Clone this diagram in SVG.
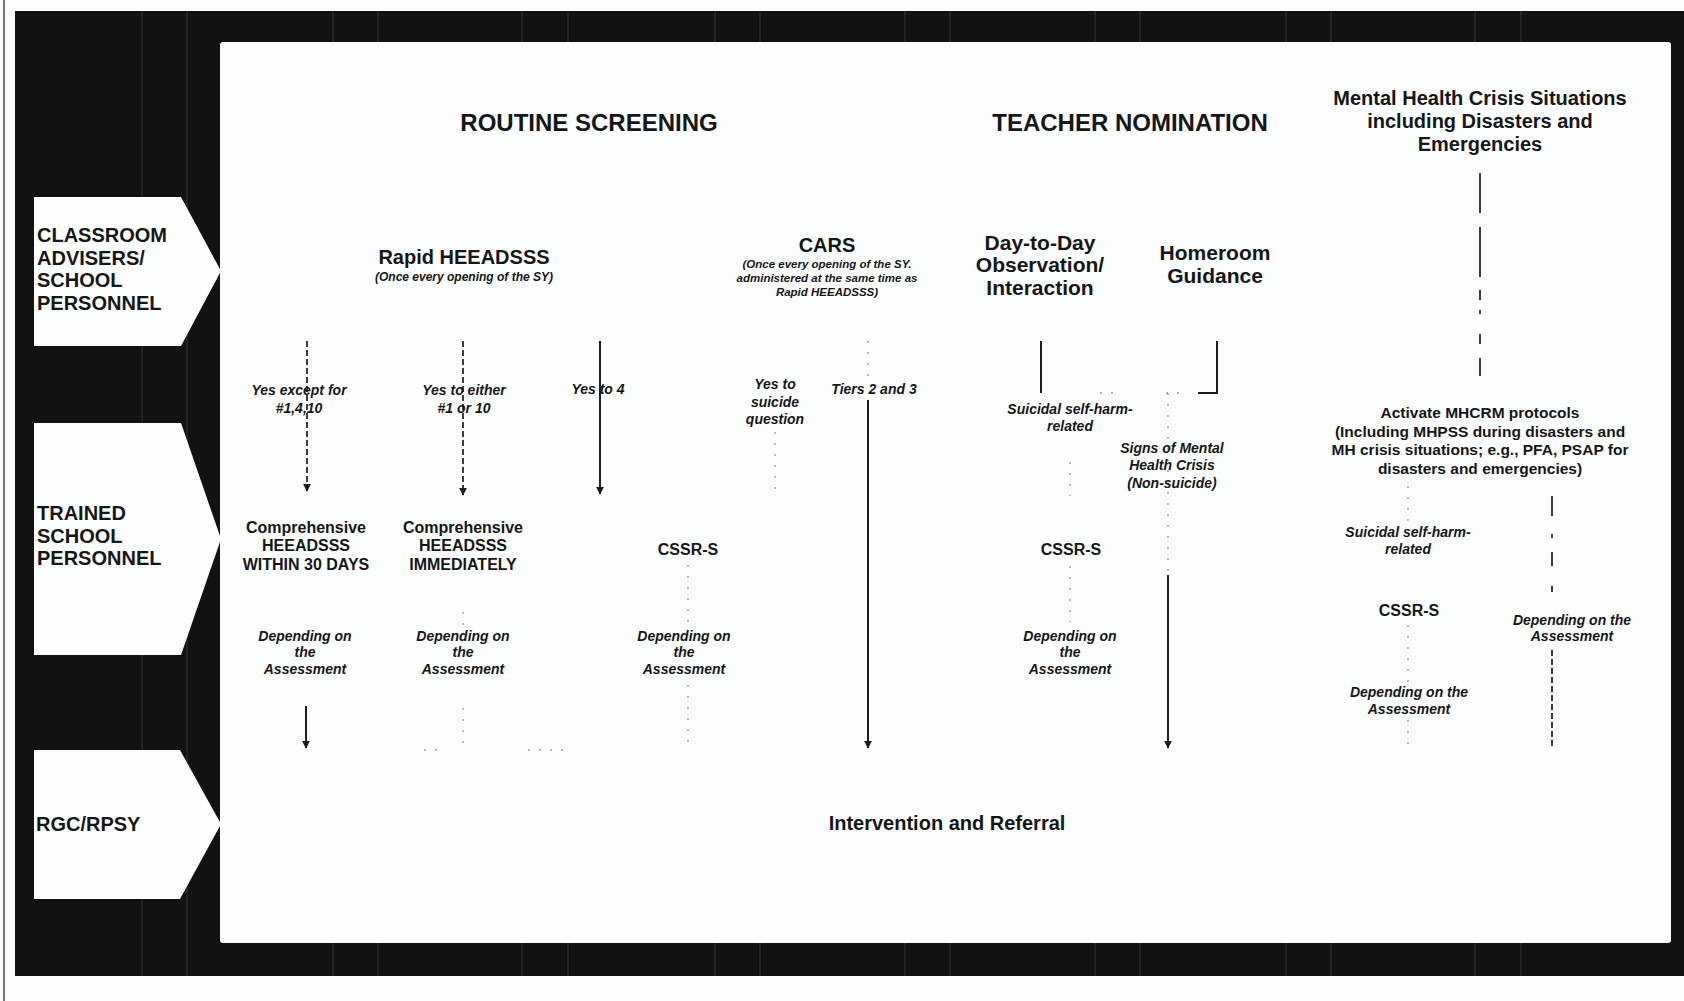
<svg xmlns="http://www.w3.org/2000/svg" width="1684" height="1001" viewBox="0 0 1684 1001">
  <defs>
    <style>
      .bg { fill: #fbfdfe; }
      .frame { fill: #121212; }
      .seam { stroke: #343434; stroke-width: 1; }
      .panel { fill: #fbfdfe; }
      .lane { fill: #fdfefe; }
      text { font-family: "Liberation Sans", Arial, sans-serif; fill: #161616; }
      .t-lane { font-weight: bold; font-size: 20px; }
      .t-head { font-weight: bold; font-size: 24px; text-anchor: middle; }
      .t-h2 { font-weight: bold; font-size: 20px; text-anchor: middle; }
      .t-h3 { font-weight: bold; font-size: 21px; text-anchor: middle; }
      .t-sub { font-weight: bold; font-style: italic; font-size: 12px; text-anchor: middle; }
      .t-sub2 { font-weight: bold; font-style: italic; font-size: 11.5px; text-anchor: middle; }
      .t-lbl { font-weight: bold; font-style: italic; font-size: 14px; text-anchor: middle; }
      .t-box { font-weight: bold; font-size: 16px; text-anchor: middle; }
      .t-act { font-weight: bold; font-size: 15.5px; text-anchor: middle; }
      .c-solid { stroke: #1c1c1c; stroke-width: 2; fill: none; }
      .c-dash { stroke: #2a2a2a; stroke-width: 1.8; stroke-dasharray: 6 3; fill: none; }
      .c-faint { stroke: #9a9a9a; stroke-width: 1.4; stroke-dasharray: 2 9; fill: none; }
    </style>
    <marker id="arrow" viewBox="0 0 10 10" refX="9" refY="5" markerWidth="8" markerHeight="8" markerUnits="userSpaceOnUse" orient="auto">
      <path d="M0,0 L10,5 L0,10 z" fill="#1c1c1c"/>
    </marker>
  </defs>

  <!-- page and outer rule -->
  <rect class="bg" x="0" y="0" width="1684" height="1001"/>
  <line x1="4" y1="0" x2="4" y2="1001" stroke="#4a4a4a" stroke-width="1.5"/>

  <!-- black frame with table seams -->
  <rect class="frame" x="15" y="11" width="1669" height="965"/>
  <g id="seams">
    <line class="seam" x1="142" y1="11" x2="142" y2="976"/>
    <line class="seam" x1="187" y1="11" x2="187" y2="976"/>
    <line class="seam" x1="333" y1="11" x2="333" y2="976"/>
    <line class="seam" x1="378" y1="11" x2="378" y2="976"/>
    <line class="seam" x1="522" y1="11" x2="522" y2="976"/>
    <line class="seam" x1="568" y1="11" x2="568" y2="976"/>
    <line class="seam" x1="715" y1="11" x2="715" y2="976"/>
    <line class="seam" x1="760" y1="11" x2="760" y2="976"/>
    <line class="seam" x1="905" y1="11" x2="905" y2="976"/>
    <line class="seam" x1="950" y1="11" x2="950" y2="976"/>
    <line class="seam" x1="1095" y1="11" x2="1095" y2="976"/>
    <line class="seam" x1="1140" y1="11" x2="1140" y2="976"/>
    <line class="seam" x1="1286" y1="11" x2="1286" y2="976"/>
    <line class="seam" x1="1331" y1="11" x2="1331" y2="976"/>
    <line class="seam" x1="1475" y1="11" x2="1475" y2="976"/>
    <line class="seam" x1="1521" y1="11" x2="1521" y2="976"/>
  </g>

  <!-- white working area -->
  <rect class="panel" x="220" y="42" width="1451" height="901" rx="3"/>

  <!-- swimlane labels -->
  <g id="lane-advisers">
    <polygon class="lane" points="34,197 181,197 221,271 181,346 34,346"/>
    <text class="t-lane" x="37" y="242">CLASSROOM</text>
    <text class="t-lane" x="37" y="265">ADVISERS/</text>
    <text class="t-lane" x="37" y="287">SCHOOL</text>
    <text class="t-lane" x="37" y="310">PERSONNEL</text>
  </g>
  <g id="lane-trained">
    <polygon class="lane" points="34,423 181,423 221,539 181,655 34,655"/>
    <text class="t-lane" x="37" y="520">TRAINED</text>
    <text class="t-lane" x="37" y="543">SCHOOL</text>
    <text class="t-lane" x="37" y="565">PERSONNEL</text>
  </g>
  <g id="lane-rgc">
    <polygon class="lane" points="34,750 180,750 221,824 180,899 34,899"/>
    <text class="t-lane" x="36" y="831">RGC/RPSY</text>
  </g>

  <!-- connectors -->
  <g id="connectors">
    <path class="c-dash" d="M307,341 V491" marker-end="url(#arrow)"/>
    <path class="c-dash" d="M463,341 V495" marker-end="url(#arrow)"/>
    <path class="c-solid" d="M600,341 V494" marker-end="url(#arrow)"/>
    <path class="c-faint" d="M775,432 V494"/>
    <path class="c-faint" d="M868,341 V384"/>
    <path class="c-solid" d="M868,400 V748" marker-end="url(#arrow)"/>
    <path class="c-solid" d="M1041,341 V393"/>
    <path class="c-solid" d="M1217,341 V393 H1198"/>
    <path class="c-faint" d="M1100,393 H1118"/>
    <path class="c-faint" d="M1166,393 H1186"/>
    <path class="c-faint" d="M1168,393 V575"/>
    <path class="c-solid" d="M1168,575 V748" marker-end="url(#arrow)"/>
    <path class="c-faint" d="M1070,462 V496"/>
    <path class="c-faint" d="M1070,566 V622"/>
    <path class="c-dash" d="M1480,173 V376" style="stroke-dasharray:40 14 50 13 10 10 4 20 10 14 25 8"/>
    <path class="c-faint" d="M1408,486 V524"/>
    <path class="c-dash" d="M1552,496 V592" style="stroke-dasharray:20 18 4 14 14 20"/>
    <path class="c-faint" d="M1408,625 V690"/>
    <path class="c-faint" d="M1408,720 V748"/>
    <path class="c-dash" d="M1552,650 V748"/>
    <path class="c-solid" d="M306,706 V748" marker-end="url(#arrow)"/>
    <path class="c-faint" d="M463,612 V628"/>
    <path class="c-faint" d="M463,708 V748"/>
    <path class="c-faint" d="M688,565 V622"/>
    <path class="c-faint" d="M688,685 V748"/>
    <path class="c-faint" d="M424,750 H442"/>
    <path class="c-faint" d="M528,750 H568"/>
  </g>

  <!-- column headings -->
  <g id="routine-screening">
    <text class="t-head" x="589" y="131">ROUTINE SCREENING</text>
  </g>
  <g id="teacher-nomination">
    <text class="t-head" x="1130" y="131">TEACHER NOMINATION</text>
  </g>
  <g id="crisis-situations">
    <text class="t-h2" x="1480" y="105">Mental Health Crisis Situations</text>
    <text class="t-h2" x="1480" y="128">including Disasters and</text>
    <text class="t-h2" x="1480" y="151">Emergencies</text>
  </g>

  <!-- screening tools -->
  <g id="rapid-heeadsss">
    <text class="t-h2" x="464" y="264">Rapid HEEADSSS</text>
    <text class="t-sub" x="464" y="281">(Once every opening of the SY)</text>
  </g>
  <g id="cars">
    <text class="t-h2" x="827" y="252">CARS</text>
    <text class="t-sub2" x="827" y="268">(Once every opening of the SY.</text>
    <text class="t-sub2" x="827" y="282">administered at the same time as</text>
    <text class="t-sub2" x="827" y="296">Rapid HEEADSSS)</text>
  </g>
  <g id="day-to-day">
    <text class="t-h3" x="1040" y="250">Day-to-Day</text>
    <text class="t-h3" x="1040" y="272">Observation/</text>
    <text class="t-h3" x="1040" y="295">Interaction</text>
  </g>
  <g id="homeroom">
    <text class="t-h3" x="1215" y="260">Homeroom</text>
    <text class="t-h3" x="1215" y="283">Guidance</text>
  </g>

  <!-- decision labels -->
  <g id="yes-except">
    <text class="t-lbl" x="299" y="395">Yes except for</text>
    <text class="t-lbl" x="299" y="413">#1,4,10</text>
  </g>
  <g id="yes-either">
    <text class="t-lbl" x="464" y="395">Yes to either</text>
    <text class="t-lbl" x="464" y="413">#1 or 10</text>
  </g>
  <g id="yes-four">
    <text class="t-lbl" x="598" y="394">Yes to 4</text>
  </g>
  <g id="yes-suicide">
    <text class="t-lbl" x="775" y="389">Yes to</text>
    <text class="t-lbl" x="775" y="407">suicide</text>
    <text class="t-lbl" x="775" y="424">question</text>
  </g>
  <g id="tiers">
    <text class="t-lbl" x="874" y="394">Tiers 2 and 3</text>
  </g>
  <g id="suicidal-observed">
    <text class="t-lbl" x="1070" y="414">Suicidal self-harm-</text>
    <text class="t-lbl" x="1070" y="431">related</text>
  </g>
  <g id="signs-crisis">
    <text class="t-lbl" x="1172" y="453">Signs of Mental</text>
    <text class="t-lbl" x="1172" y="470">Health Crisis</text>
    <text class="t-lbl" x="1172" y="488">(Non-suicide)</text>
  </g>
  <g id="activate-mhcrm">
    <text class="t-act" x="1480" y="418">Activate MHCRM protocols</text>
    <text class="t-act" x="1480" y="437">(Including MHPSS during disasters and</text>
    <text class="t-act" x="1480" y="455">MH crisis situations; e.g., PFA, PSAP for</text>
    <text class="t-act" x="1480" y="474">disasters and emergencies)</text>
  </g>

  <!-- trained personnel assessments -->
  <g id="comp-30days">
    <text class="t-box" x="306" y="533">Comprehensive</text>
    <text class="t-box" x="306" y="551">HEEADSSS</text>
    <text class="t-box" x="306" y="570">WITHIN 30 DAYS</text>
  </g>
  <g id="comp-immediately">
    <text class="t-box" x="463" y="533">Comprehensive</text>
    <text class="t-box" x="463" y="551">HEEADSSS</text>
    <text class="t-box" x="463" y="570">IMMEDIATELY</text>
  </g>
  <g id="cssrs-screening">
    <text class="t-box" x="688" y="555">CSSR-S</text>
  </g>
  <g id="cssrs-nomination">
    <text class="t-box" x="1071" y="555">CSSR-S</text>
  </g>
  <g id="suicidal-crisis">
    <text class="t-lbl" x="1408" y="537">Suicidal self-harm-</text>
    <text class="t-lbl" x="1408" y="554">related</text>
  </g>
  <g id="cssrs-crisis">
    <text class="t-box" x="1409" y="616">CSSR-S</text>
  </g>

  <!-- assessment outcomes -->
  <g id="depending-1">
    <text class="t-lbl" x="305" y="641">Depending on</text>
    <text class="t-lbl" x="305" y="657">the</text>
    <text class="t-lbl" x="305" y="674">Assessment</text>
  </g>
  <g id="depending-2">
    <text class="t-lbl" x="463" y="641">Depending on</text>
    <text class="t-lbl" x="463" y="657">the</text>
    <text class="t-lbl" x="463" y="674">Assessment</text>
  </g>
  <g id="depending-3">
    <text class="t-lbl" x="684" y="641">Depending on</text>
    <text class="t-lbl" x="684" y="657">the</text>
    <text class="t-lbl" x="684" y="674">Assessment</text>
  </g>
  <g id="depending-4">
    <text class="t-lbl" x="1070" y="641">Depending on</text>
    <text class="t-lbl" x="1070" y="657">the</text>
    <text class="t-lbl" x="1070" y="674">Assessment</text>
  </g>
  <g id="depending-5">
    <text class="t-lbl" x="1409" y="697">Depending on the</text>
    <text class="t-lbl" x="1409" y="714">Assessment</text>
  </g>
  <g id="depending-6">
    <text class="t-lbl" x="1572" y="625">Depending on the</text>
    <text class="t-lbl" x="1572" y="641">Assessment</text>
  </g>

  <!-- referral lane -->
  <g id="intervention">
    <text class="t-h2" x="947" y="830">Intervention and Referral</text>
  </g>
</svg>
